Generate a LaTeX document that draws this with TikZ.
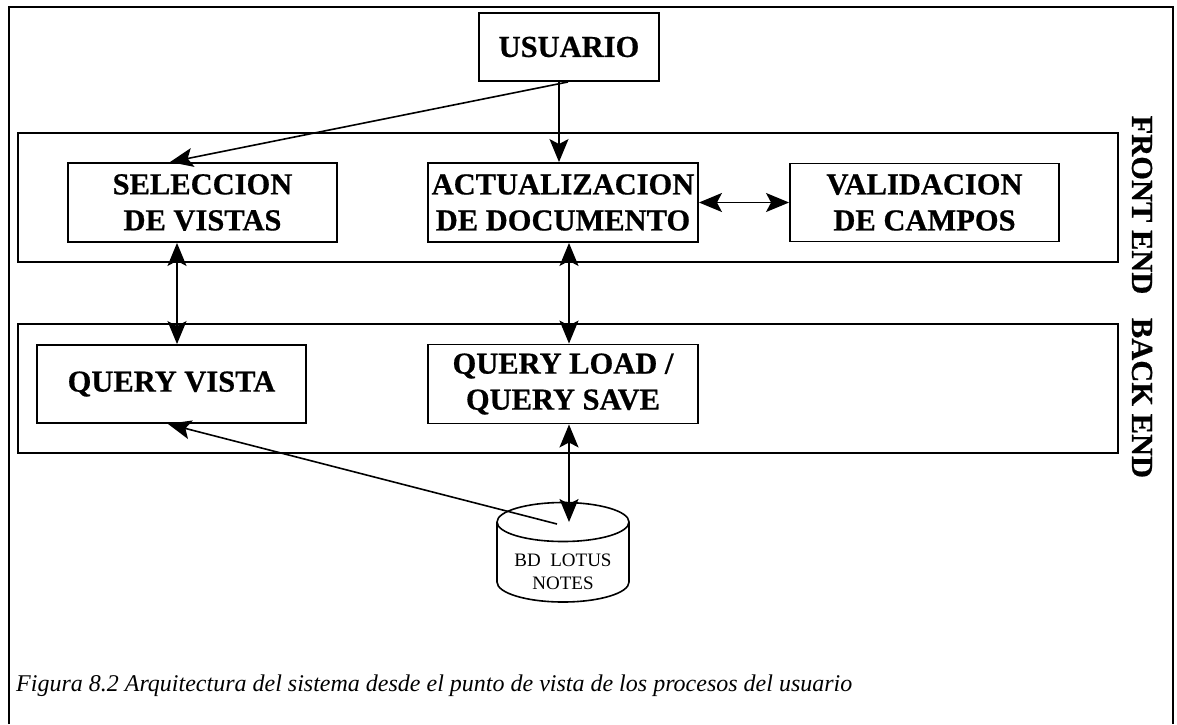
\documentclass[tikz,border=0pt]{standalone}
\usepackage{fontspec}
\setmainfont{Liberation Serif}
\newfontfamily\heavyfont{Liberation Serif Bold}[FakeBold=0.6]
\usetikzlibrary{arrows.meta}
\begin{document}
\begin{tikzpicture}[x=1pt,y=-1pt,
  frame/.style={line width=1.8pt},
  band/.style={draw,line width=1.9pt},
  procbox/.style={draw,line width=1.9pt,rectangle,inner sep=0pt,align=center,
    font=\fontsize{30.5}{36}\selectfont\heavyfont},
  conn/.style={line width=1.6pt,-{Stealth[length=23pt,width=19pt,inset=5pt]}},
  biconn/.style={line width=1.6pt,{Stealth[length=23pt,width=19pt,inset=5pt]}-{Stealth[length=23pt,width=19pt,inset=5pt]}},
  sidelabel/.style={rotate=-90,font=\fontsize{30.5}{36}\selectfont\heavyfont,inner sep=0pt},
  dbtext/.style={align=center,font=\fontsize{19}{23}\selectfont,inner sep=0pt}
]
\useasboundingbox (0,0) rectangle (1177,724);
% outer frame
\draw[frame] (9,724) -- (9,7) -- (1173,7) -- (1173,724);
% bands
\draw[band] (18,133) rectangle (1118,262);
\draw[band] (18,324) rectangle (1118,453);
% boxes
\node[procbox,minimum width=180pt,minimum height=68pt] (usr) at (569,47) {USUARIO};
\node[procbox,minimum width=269pt,minimum height=79pt] (sel) at (202.5,202.5) {SELECCION\\DE VISTAS};
\node[procbox,minimum width=270pt,minimum height=79pt] (act) at (563,202.5) {ACTUALIZACION\\DE DOCUMENTO};
\node[procbox,minimum width=269pt,minimum height=78pt] (val) at (924.5,202.5) {VALIDACION\\DE CAMPOS};
\node[procbox,minimum width=269pt,minimum height=78pt] (qv) at (171.5,384) {QUERY VISTA};
\node[procbox,minimum width=270pt,minimum height=79pt] (ql) at (563,384) {QUERY LOAD /\\QUERY SAVE};
% database cylinder
\draw[line width=1.6pt] (563,522) ellipse [x radius=66, y radius=19.5];
\draw[line width=1.6pt] (497,522) -- (497,582) arc[start angle=180,end angle=0,x radius=66,y radius=20] -- (629,522);
\node[dbtext] (db) at (563,572) {BD\ \ LOTUS\\NOTES};
\coordinate (dbtop) at (569,522);
\coordinate (dbin) at (557,524);
% side labels
\node[sidelabel] (fe) at (1142,205) {FRONT END};
\node[sidelabel] (be) at (1142,398) {BACK END};
% connectors
\draw[conn] ([xshift=-10pt]usr.south) -- ([xshift=-4pt]act.north);
\draw[conn] ([xshift=-1pt]usr.south) -- ([xshift=-32.5pt]sel.north);
\draw[biconn] (act.east) -- (val.west);
\draw[biconn] ([xshift=-25.5pt]sel.south) -- ([xshift=5.5pt]qv.north);
\draw[biconn] ([xshift=6pt]act.south) -- ([xshift=6pt]ql.north);
\draw[biconn] ([xshift=6pt]ql.south) -- (dbtop);
\draw[conn] (dbin) -- ([xshift=-3.5pt]qv.south);
% caption
\node[anchor=base west,inner sep=0pt,font=\fontsize{24}{28}\selectfont\itshape] (cap) at (16,691)
  {Figura 8.2 Arquitectura del sistema desde el punto de vista de los procesos del usuario};
\end{tikzpicture}
\end{document}
